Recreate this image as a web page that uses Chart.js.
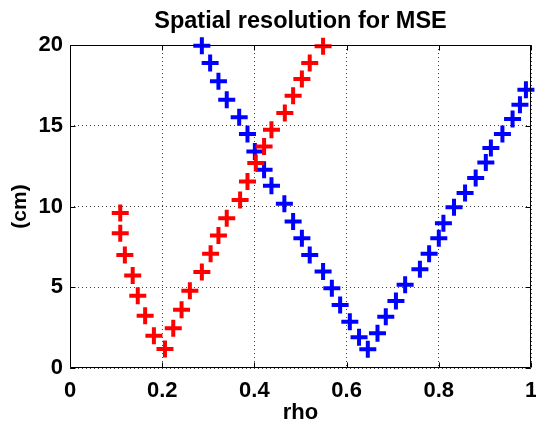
<!DOCTYPE html>
<html>
<head>
<meta charset="utf-8">
<script src="https://cdn.jsdelivr.net/npm/chart.js@4/dist/chart.umd.min.js"></script>
<style>
  html, body { margin: 0; padding: 0; background: #fff; }
  #wrap { width: 536px; height: 431px; }
</style>
</head>
<body>
<div id="wrap"><canvas id="chart" width="536" height="431"></canvas></div>
<script>
// rho positions and resolution (cm) for each channel set
const redRho = [0.109, 0.109, 0.119, 0.136, 0.147, 0.163, 0.182, 0.206, 0.224, 0.242, 0.260, 0.286, 0.305,
  0.322, 0.340, 0.369, 0.385, 0.403, 0.421, 0.437, 0.466, 0.484, 0.503, 0.520, 0.549]
const redCm = [9.59, 8.35, 7.0, 5.72, 4.48, 3.24, 2.0, 1.18, 2.46, 3.6, 4.79, 5.95, 7.07,
  8.2, 9.28, 10.4, 11.55, 12.69, 13.72, 14.76, 15.79, 16.86, 17.9, 18.89, 19.92]

const blueRho = [0.286, 0.304, 0.322, 0.340, 0.367, 0.385, 0.401, 0.421, 0.437, 0.465, 0.484, 0.503,
  0.520, 0.549, 0.568, 0.586, 0.607, 0.627, 0.646, 0.667, 0.685, 0.707, 0.727, 0.759,
  0.779, 0.800, 0.810, 0.833, 0.857, 0.880, 0.902, 0.913, 0.938, 0.960, 0.976, 0.989]
const blueCm = [19.96, 18.89, 17.75, 16.61, 15.52, 14.49, 13.41, 12.28, 11.28, 10.17, 9.07, 8.04,
  7.0, 5.97, 4.94, 3.9, 2.87, 1.9, 1.16, 2.15, 3.18, 4.15, 5.15, 6.12,
  7.07, 8.04, 8.97, 9.95, 10.83, 11.76, 12.73, 13.62, 14.49, 15.42, 16.3, 17.23]

const xTicks = [0, 0.2, 0.4, 0.6, 0.8, 1]
const xTickLabels = ["0", "0.2", "0.4", "0.6", "0.8", "1"]
const yTicks = [0, 5, 10, 15, 20]
const yTickLabels = ["0", "5", "10", "15", "20"]

const FONT = "'Liberation Sans', Arial, Helvetica, sans-serif"

const toPoints = (xs, ys) => xs.map((x, i) => ({ x: x, y: ys[i] }))

// box around the axes plus short inward tick marks on all four sides
const axesBox = {
  id: "axesBox",
  afterDatasetsDraw: (chart) => {
    const { ctx, chartArea: a, scales } = chart
    const L = Math.round(a.left) + 0.5
    const R = Math.round(a.right) - 0.5
    const T = Math.round(a.top) + 0.5
    const B = Math.round(a.bottom) - 0.5
    const len = 5
    ctx.save()
    ctx.setLineDash([])
    ctx.strokeStyle = "#000"
    ctx.lineWidth = 1
    ctx.beginPath()
    ctx.rect(L, T, R - L, B - T)
    xTicks.forEach((v) => {
      const px = Math.round(scales.x.getPixelForValue(v)) + 0.5
      ctx.moveTo(px, B); ctx.lineTo(px, B - len)
      ctx.moveTo(px, T); ctx.lineTo(px, T + len)
    })
    yTicks.forEach((v) => {
      const py = Math.round(scales.y.getPixelForValue(v)) + 0.5
      ctx.moveTo(L, py); ctx.lineTo(L + len, py)
      ctx.moveTo(R, py); ctx.lineTo(R - len, py)
    })
    ctx.stroke()
    ctx.restore()
  },
}

const markerStyle = {
  pointStyle: "cross",
  pointRadius: 8.5,
  pointHoverRadius: 8.5,
  pointBorderWidth: 4,
  pointHoverBorderWidth: 4,
  showLine: false,
  clip: false,
}

new Chart(document.getElementById("chart"), {
  type: "scatter",
  data: {
    datasets: [
      { ...markerStyle, label: "red", data: toPoints(redRho, redCm), borderColor: "#ff0000", backgroundColor: "#ff0000" },
      { ...markerStyle, label: "blue", data: toPoints(blueRho, blueCm), borderColor: "#0000ff", backgroundColor: "#0000ff" },
    ],
  },
  options: {
    responsive: false,
    animation: false,
    devicePixelRatio: 1,
    events: [],
    // markers are allowed to spill over the frame, so no auto padding for them
    layout: { autoPadding: false, padding: { top: 0, left: 0, right: 5, bottom: 0 } },
    plugins: {
      legend: { display: false },
      tooltip: { enabled: false },
      title: {
        display: true,
        text: "Spatial resolution for MSE",
        fullSize: false,
        color: "#000",
        font: { family: FONT, size: 23.5, weight: "bold", lineHeight: 1.2 },
        padding: { top: 7, bottom: 9.8 },
      },
    },
    scales: {
      x: {
        type: "linear",
        min: 0,
        max: 1,
        afterBuildTicks: (scale) => { scale.ticks = xTicks.map((v) => ({ value: v })) },
        afterFit: (scale) => { scale.height = 63; scale.paddingLeft = 0; scale.paddingRight = 0 },
        ticks: {
          color: "#000",
          padding: 10,
          maxRotation: 0,
          font: { family: FONT, size: 22, weight: "bold" },
          callback: (v) => xTickLabels[xTicks.indexOf(v)],
        },
        grid: { color: "rgba(0,0,0,0.75)", lineWidth: 1, drawTicks: false },
        border: { display: false, dash: [1, 3] },
        title: {
          display: true,
          text: "rho",
          color: "#000",
          font: { family: FONT, size: 22, weight: "bold" },
          padding: { top: 0, bottom: 5 },
        },
      },
      y: {
        type: "linear",
        min: 0,
        max: 20,
        afterBuildTicks: (scale) => { scale.ticks = yTicks.map((v) => ({ value: v })) },
        afterFit: (scale) => { scale.width = 70; scale.paddingTop = 0; scale.paddingBottom = 0 },
        ticks: {
          color: "#000",
          padding: 7,
          font: { family: FONT, size: 22, weight: "bold" },
          callback: (v) => yTickLabels[yTicks.indexOf(v)],
        },
        grid: { color: "rgba(0,0,0,0.75)", lineWidth: 1, drawTicks: false },
        border: { display: false, dash: [1, 3] },
        title: {
          display: true,
          text: "(cm)",
          color: "#000",
          font: { family: FONT, size: 21, weight: "bold" },
          padding: { top: 8, bottom: 0 },
        },
      },
    },
  },
  plugins: [axesBox],
})
</script>
</body>
</html>
